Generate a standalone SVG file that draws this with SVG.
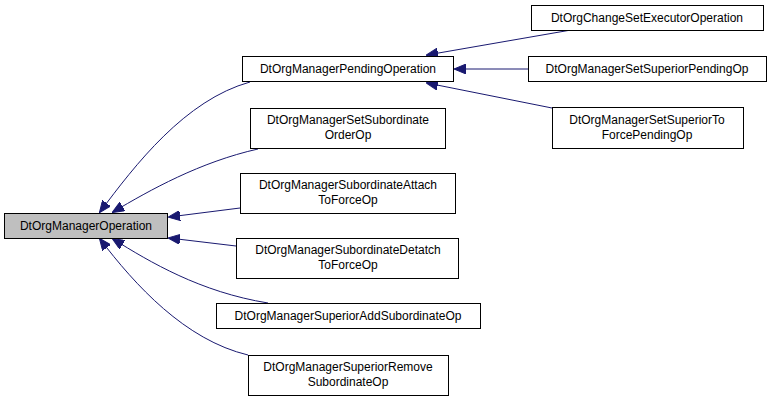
<svg xmlns="http://www.w3.org/2000/svg" width="773" height="401" viewBox="0 0 773 401">
<style>
.n rect{fill:#fff;stroke:#000;stroke-width:1}
text{font-family:"Liberation Sans",Arial,sans-serif;font-size:12px;text-anchor:middle}
.e path{fill:none;stroke:#191970;stroke-width:1;marker-start:url(#a)}
</style>
<defs><marker id="a" markerWidth="12" markerHeight="10" refX="1" refY="5" orient="auto" markerUnits="userSpaceOnUse"><path d="M12,0 L0,5 L12,10 Z" fill="#191970" stroke="#191970"/></marker></defs>
<rect width="773" height="401" fill="#fff"/>
<g class="e">
<path d="M100,212 C135,165 185,100 250,82"/>
<path d="M113,212 C150,190 200,162 258,149"/>
<path d="M169,217 L240,208"/>
<path d="M169,238 L236,246"/>
<path d="M113,239 C150,262 200,292 268,303"/>
<path d="M100,239 C135,285 185,340 248,355"/>
<path d="M427,55 L571,30"/>
<path d="M455,69 L528,69"/>
<path d="M427,83 L552,108"/>
</g>
<g id="base" class="n"><rect x="4.5" y="213.5" width="163" height="25" fill="#bfbfbf" style="fill:#bfbfbf"/><text x="86" y="230">DtOrgManagerOperation</text></g>
<g id="pending" class="n"><rect x="242.5" y="56.5" width="211" height="25"/><text x="348" y="73">DtOrgManagerPendingOperation</text></g>
<g id="setsub" class="n"><rect x="250.5" y="108.5" width="195" height="40"/><text x="348" y="124">DtOrgManagerSetSubordinate</text><text x="348" y="139">OrderOp</text></g>
<g id="attach" class="n"><rect x="240.5" y="173.5" width="215" height="40"/><text x="348" y="189">DtOrgManagerSubordinateAttach</text><text x="348" y="204">ToForceOp</text></g>
<g id="detatch" class="n"><rect x="236.5" y="238.5" width="222" height="40"/><text x="348" y="254">DtOrgManagerSubordinateDetatch</text><text x="348" y="269">ToForceOp</text></g>
<g id="supadd" class="n"><rect x="216.5" y="303.5" width="264" height="25"/><text x="348" y="320">DtOrgManagerSuperiorAddSubordinateOp</text></g>
<g id="suprem" class="n"><rect x="248.5" y="355.5" width="200" height="40"/><text x="348" y="371">DtOrgManagerSuperiorRemove</text><text x="348" y="386">SubordinateOp</text></g>
<g id="changeset" class="n"><rect x="531.5" y="5.5" width="232" height="25"/><text x="647" y="22">DtOrgChangeSetExecutorOperation</text></g>
<g id="setsuppend" class="n"><rect x="528.5" y="56.5" width="238" height="25"/><text x="647" y="73">DtOrgManagerSetSuperiorPendingOp</text></g>
<g id="setsupto" class="n"><rect x="552.5" y="107.5" width="191" height="41"/><text x="647" y="124">DtOrgManagerSetSuperiorTo</text><text x="647" y="139">ForcePendingOp</text></g>
</svg>
